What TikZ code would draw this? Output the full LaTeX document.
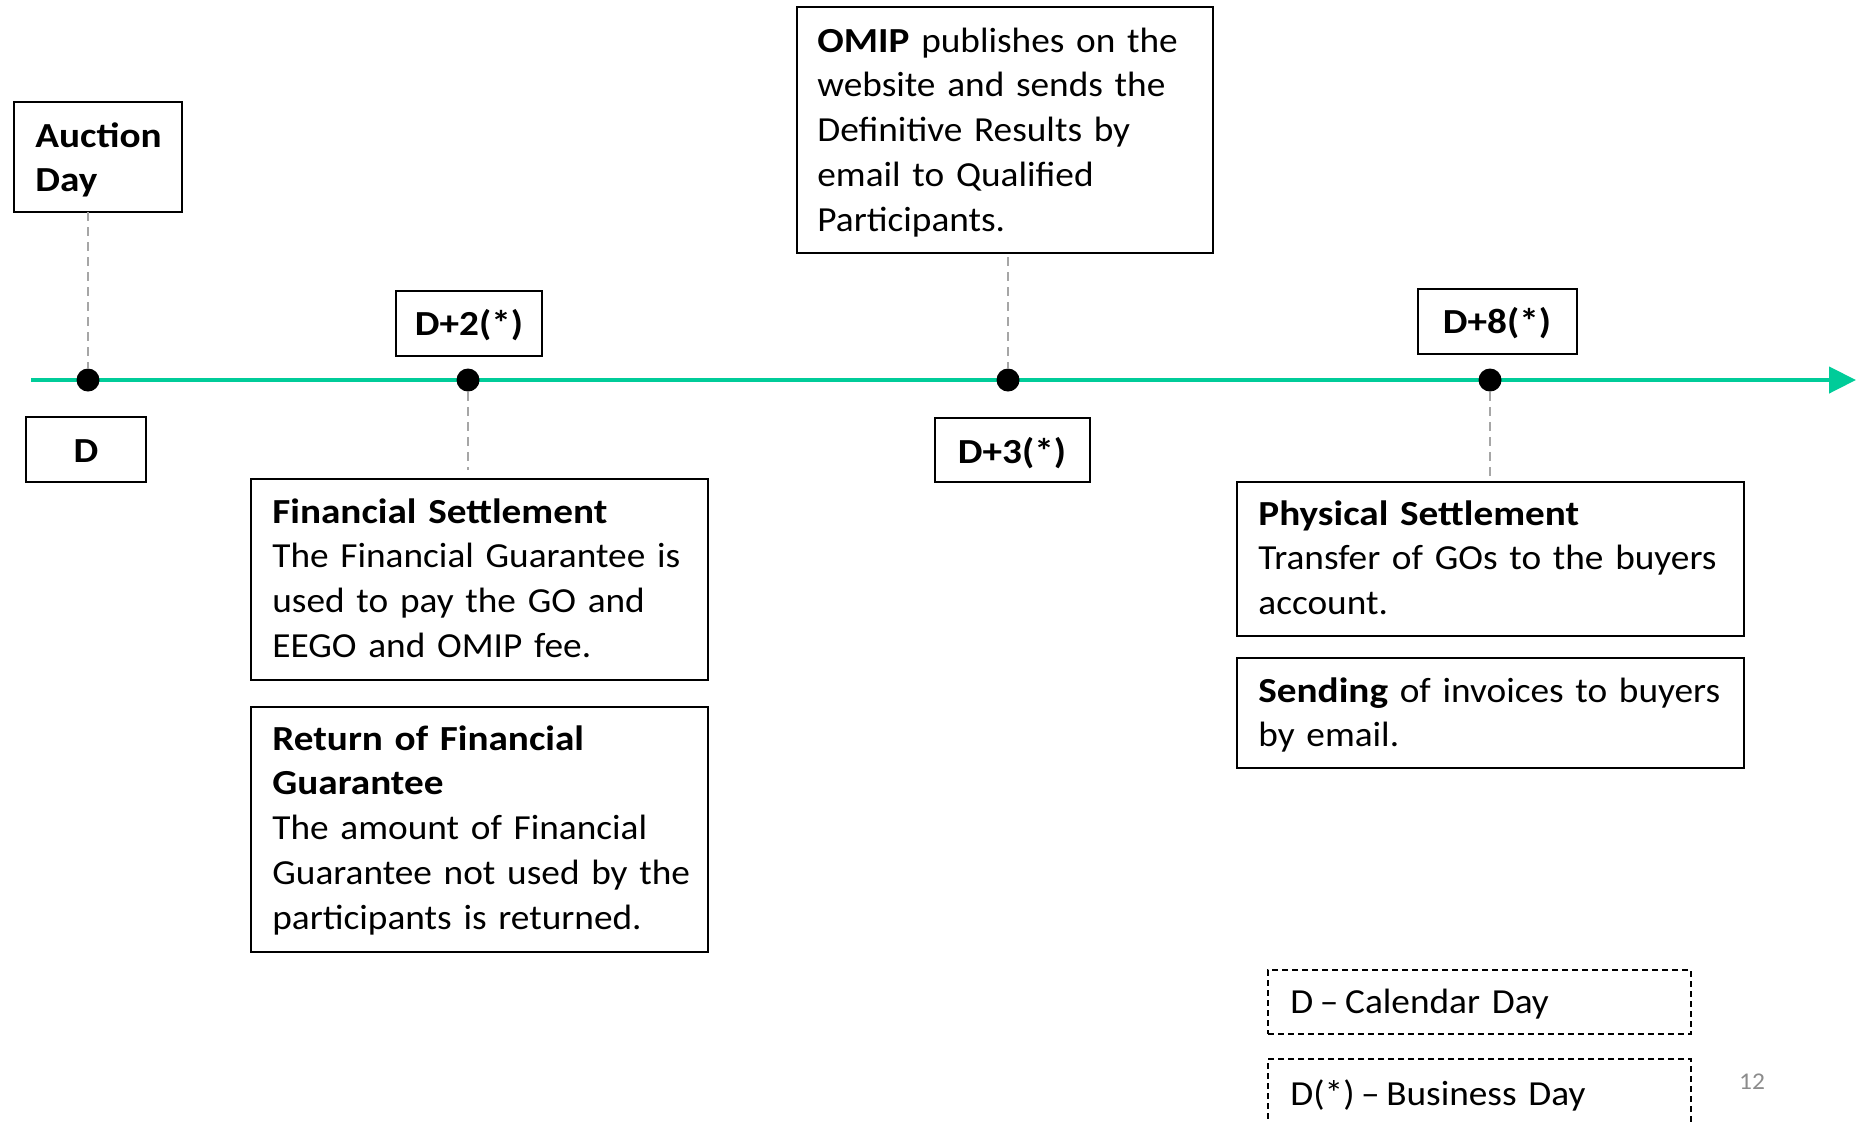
\documentclass[tikz,border=0pt]{standalone}
\usepackage{fontspec}
\setmainfont{Carlito}[FakeStretch=1.06, BoldFeatures={FakeStretch=1.114}]
\usetikzlibrary{arrows.meta}
\definecolor{lineGreen}{RGB}{0,204,153}
\definecolor{connGray}{RGB}{166,166,166}
\definecolor{pageGray}{RGB}{140,140,140}
\newcommand{\boxfont}{\fontsize{17.6}{22.4}\selectfont\spaceskip=2.97pt\relax}
\newcommand{\legdash}{\kern3.3pt--\kern3.3pt}
\tikzset{
  box/.style={draw=black, line width=1pt, inner sep=0pt, outer sep=0pt, anchor=north west},
  legendbox/.style={draw=black, line width=0.9pt, dash pattern=on 3pt off 2pt, inner sep=0pt, outer sep=0pt, anchor=north west},
  txt/.style={anchor=base west, inner sep=0pt, align=left, text width=260pt, font=\boxfont},
  lbl/.style={anchor=base, inner sep=0pt, font=\boxfont\bfseries},
  dot/.style={circle, fill=black, inner sep=0pt, minimum size=11.5pt},
  conn/.style={draw=connGray, line width=1pt, dash pattern=on 4.5pt off 3pt},
  timeline/.style={draw=lineGreen, line width=2.2pt, -{Triangle[length=13.5pt,width=13pt]}},
}
\begin{document}
\begin{tikzpicture}[x=0.5pt, y=-0.5pt]
  \clip (0,0) rectangle (1863,1121);

  % time axis
  \coordinate (tstart) at (31,380);
  \coordinate (tend) at (1856,380);
  \draw[timeline] (tstart) -- (tend);

  % milestones on the axis
  \node[dot] (d0) at (88,380) {};
  \node[dot] (d2) at (468,380) {};
  \node[dot] (d3) at (1008,380) {};
  \node[dot] (d8) at (1490,380) {};

  % day labels
  \node[box, minimum width=60pt, minimum height=32.5pt] (bD) at (26,417) {};
  \node[lbl] (tD) at (86,462) {D};
  \node[box, minimum width=73pt, minimum height=32.5pt] (bD2) at (396,291) {};
  \node[lbl] (tD2) at (469,335) {D+2(*)};
  \node[box, minimum width=77.5pt, minimum height=32pt] (bD3) at (935,418) {};
  \node[lbl] (tD3) at (1012,463) {D+3(*)};
  \node[box, minimum width=79.5pt, minimum height=32.5pt] (bD8) at (1418,289) {};
  \node[lbl] (tD8) at (1497,333) {D+8(*)};

  % event boxes
  \node[box, minimum width=84pt, minimum height=55pt] (auction) at (14,102) {};
  \node[txt] (tauction) at (35,147) {\textbf{Auction}\\\textbf{Day}};

  \node[box, minimum width=208pt, minimum height=123pt] (omip) at (797,7) {};
  \node[txt] (tomip) at (817,52) {\textbf{OMIP} publishes on the\\website and sends the\\Definitive Results by\\email to Qualified\\Participants.};

  \node[box, minimum width=228.5pt, minimum height=100.5pt] (fin) at (251,479) {};
  \node[txt] (tfin) at (272,523) {\textbf{Financial Settlement}\\The Financial Guarantee is\\used to pay the GO and\\EEGO and OMIP fee.};

  \node[box, minimum width=228.5pt, minimum height=122.5pt] (ret) at (251,707) {};
  \node[txt] (tret) at (272,750) {\textbf{Return of Financial}\\\textbf{Guarantee}\\The amount of Financial\\Guarantee not used by the\\participants is returned.};

  \node[box, minimum width=253.5pt, minimum height=77pt] (phys) at (1237,482) {};
  \node[txt] (tphys) at (1258,525) {\textbf{Physical Settlement}\\Transfer of GOs to the buyers\\account.};

  \node[box, minimum width=253.5pt, minimum height=55pt] (send) at (1237,658) {};
  \node[txt] (tsend) at (1258,702) {\textbf{Sending} of invoices to buyers\\by email.};

  % dashed leaders between boxes and milestones
  \draw[conn] (auction.south -| d0) -- (d0);
  \draw[conn, shorten >=4.5pt] (d2) -- (fin.north -| d2);
  \draw[conn, shorten <=2pt] (omip.south -| d3) -- (d3);
  \draw[conn, shorten >=2pt] (d8) -- (phys.north -| d8);

  % legend
  \node[legendbox, minimum width=211.5pt, minimum height=32pt] (cal) at (1268,970) {};
  \node[txt] (tcal) at (1290,1013) {D\legdash Calendar Day};
  \node[legendbox, minimum width=211.5pt, minimum height=40pt] (bus) at (1268,1059) {};
  \node[txt] (tbus) at (1290,1105) {D(*)\legdash Business Day};

  % page number
  \node[inner sep=0pt, text=pageGray, font=\fontsize{12}{14}\selectfont] (pg) at (1752,1082) {12};
\end{tikzpicture}
\end{document}
